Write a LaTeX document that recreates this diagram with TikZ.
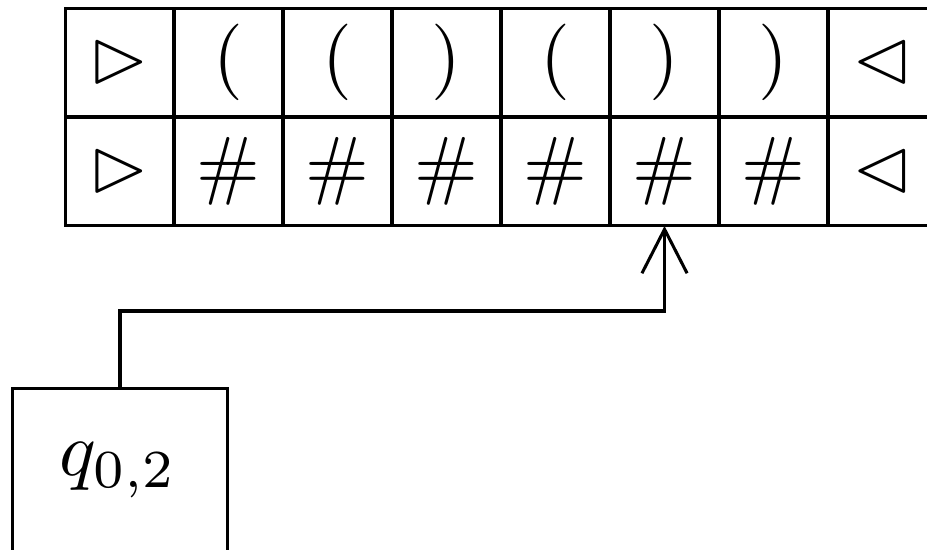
\documentclass[tikz,border=0pt]{standalone}
\usepackage{latexsym}
\usetikzlibrary{arrows.meta}
\begin{document}
\begin{tikzpicture}[x=0.0045872cm,y=-0.0045872cm,
  cell/.style={draw, line width=0.4pt, minimum size=0.5cm, inner sep=0pt, outer sep=0pt, anchor=center},
  qbox/.style={draw, line width=0.4pt, minimum width=0.9908cm, minimum height=1cm, inner sep=0pt, outer sep=0pt},
  conn/.style={line width=0.4pt, -{Straight Barb[length=5.75pt,width=5.9pt]}}]
\useasboundingbox (0,0) rectangle (927,550);
\clip (0,0) rectangle (927,550);
% row 1
\node[cell] (a1) at (119.5,62.5) {$\rhd$};
\node[cell] (a2) at (228.5,62.5) {$($};
\node[cell] (a3) at (337.5,62.5) {$($};
\node[cell] (a4) at (446.5,62.5) {$)$};
\node[cell] (a5) at (555.5,62.5) {$($};
\node[cell] (a6) at (664.5,62.5) {$)$};
\node[cell] (a7) at (773.5,62.5) {$)$};
\node[cell] (a8) at (882.5,62.5) {$\lhd$};
% row 2
\node[cell] (b1) at (119.5,171.5) {$\rhd$};
\node[cell] (b2) at (228.5,171.5) {$\#$};
\node[cell] (b3) at (337.5,171.5) {$\#$};
\node[cell] (b4) at (446.5,171.5) {$\#$};
\node[cell] (b5) at (555.5,171.5) {$\#$};
\node[cell] (b6) at (664.5,171.5) {$\#$};
\node[cell] (b7) at (773.5,171.5) {$\#$};
\node[cell] (b8) at (882.5,171.5) {$\lhd$};
% state box
\node[qbox] (q) at (120,497) {};
\node[anchor=base] (ql) at (118,476) {$q_{0,2}$};
\coordinate (bend) at (120,311);
\draw[conn] (q.north) -- (bend) -| (b6.south);
\end{tikzpicture}
\end{document}
